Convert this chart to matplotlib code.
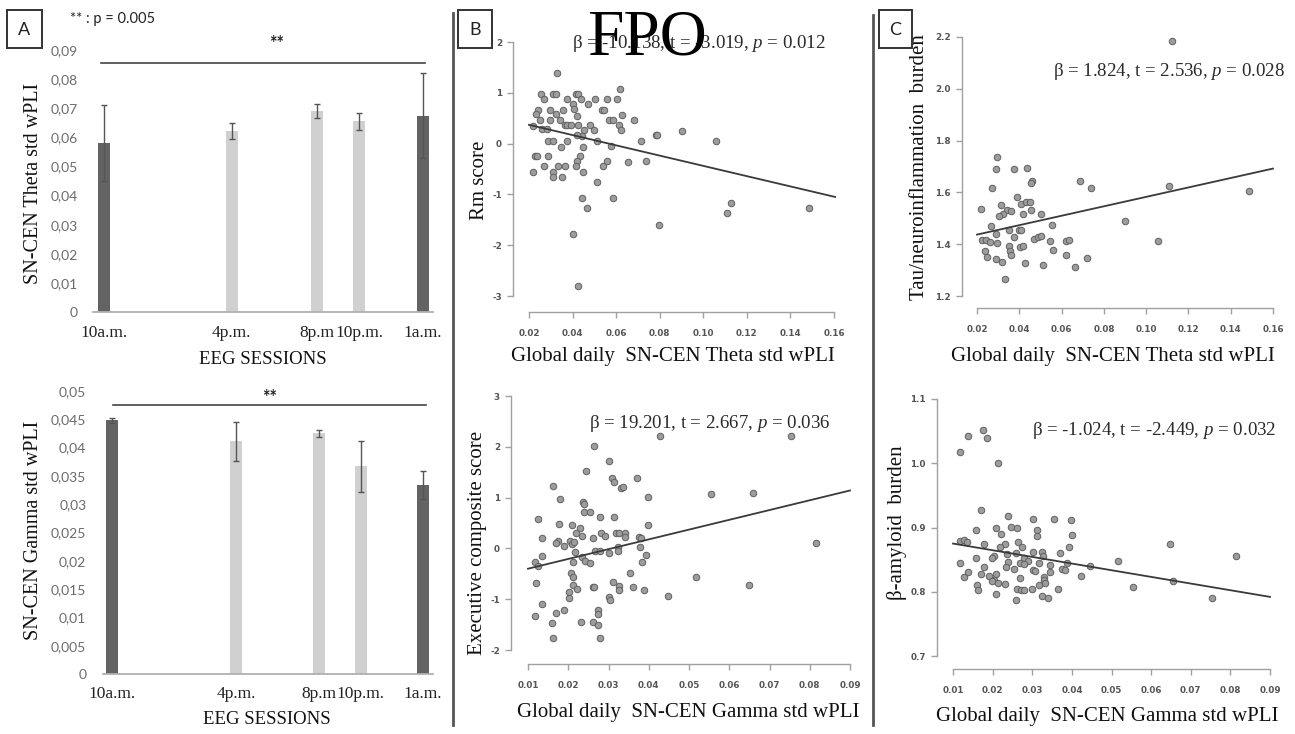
import numpy as np
import matplotlib
matplotlib.use("Agg")
import matplotlib.pyplot as plt
from matplotlib.patches import Rectangle
from matplotlib.lines import Line2D

plt.rcParams['mathtext.fontset'] = 'custom'
plt.rcParams['mathtext.rm'] = 'Liberation Serif'
plt.rcParams['mathtext.it'] = 'Liberation Serif:italic'

# ---------------- data ----------------
sessions = ['10a.m.', '4p.m.', '8p.m', '10p.m.', '1a.m.']
session_hours = [10, 16, 20, 22, 25]
session_dark = [True, False, False, False, True]

theta_mean = [0.058, 0.0622, 0.069, 0.0655, 0.0675]
theta_err = [0.013, 0.0027, 0.0025, 0.003, 0.0145]
theta_ticks = [0, 0.01, 0.02, 0.03, 0.04, 0.05, 0.06, 0.07, 0.08, 0.09]
theta_ticklabels = ['0', '0,01', '0,02', '0,03', '0,04', '0,05', '0,06', '0,07', '0,08', '0,09']
theta_sig = 0.0855

gamma_mean = [0.0448, 0.0411, 0.0425, 0.0367, 0.0334]
gamma_err = [0.0004, 0.0035, 0.0006, 0.0045, 0.0025]
gamma_ticks = [0, 0.005, 0.01, 0.015, 0.02, 0.025, 0.03, 0.035, 0.04, 0.045, 0.05]
gamma_ticklabels = ['0', '0,005', '0,01', '0,015', '0,02', '0,025', '0,03', '0,035', '0,04', '0,045', '0,05']
gamma_sig = 0.0475

# B top: theta vs Rm score
rm_x = [0.0327, 0.0254, 0.0312, 0.0324, 0.0416, 0.0426, 0.0618, 0.0269, 0.0373, 0.0438,
        0.0503, 0.0556, 0.0602, 0.0403, 0.0469, 0.0240, 0.0296, 0.0358, 0.0408, 0.0533,
        0.0544, 0.0232, 0.0324, 0.0419, 0.0628, 0.0250, 0.0296, 0.0342, 0.0569, 0.0584,
        0.0683, 0.0220, 0.0365, 0.0376, 0.0393, 0.0423, 0.0480, 0.0613, 0.0258, 0.0284,
        0.0454, 0.0500, 0.0622, 0.0442, 0.0419, 0.0781, 0.0789, 0.0904, 0.0289, 0.0312,
        0.0373, 0.0511, 0.0714, 0.1057, 0.0347, 0.0449, 0.0576, 0.0228, 0.0235, 0.0289,
        0.0434, 0.0419, 0.0556, 0.0656, 0.0735, 0.0270, 0.0335, 0.0365, 0.0416, 0.0541,
        0.0220, 0.0312, 0.0449, 0.0309, 0.0353, 0.0514, 0.0442, 0.0587, 0.0465, 0.1127,
        0.1107, 0.1485, 0.0797, 0.0400, 0.0426]
rm_y = [1.39, 0.98, 0.98, 0.98, 0.98, 0.98, 1.08, 0.87, 0.87, 0.88,
        0.87, 0.87, 0.87, 0.77, 0.77, 0.67, 0.67, 0.67, 0.69, 0.67,
        0.67, 0.58, 0.58, 0.55, 0.56, 0.47, 0.47, 0.47, 0.47, 0.47,
        0.47, 0.35, 0.37, 0.37, 0.37, 0.37, 0.37, 0.37, 0.28, 0.28,
        0.26, 0.26, 0.26, 0.15, 0.17, 0.17, 0.17, 0.25, 0.05, 0.05,
        0.05, 0.05, 0.05, 0.05, -0.06, -0.06, -0.04, -0.25, -0.25, -0.25,
        -0.25, -0.35, -0.35, -0.37, -0.35, -0.45, -0.45, -0.45, -0.45, -0.45,
        -0.55, -0.55, -0.55, -0.65, -0.65, -0.76, -1.07, -1.07, -1.26, -1.17,
        -1.37, -1.26, -1.61, -1.77, -2.80]
rm_fit_x = [0.0200, 0.1605]
rm_fit_y = [0.37, -1.05]

# B bottom: gamma vs executive composite
ex_x = [0.0263, 0.0427, 0.0753, 0.0300, 0.0245, 0.0162, 0.0308, 0.0313, 0.0370, 0.0332,
        0.0337, 0.0180, 0.0237, 0.0238, 0.0399, 0.0555, 0.0658, 0.0240, 0.0253, 0.0280,
        0.0313, 0.0126, 0.0178, 0.0209, 0.0399, 0.0230, 0.0282, 0.0291, 0.0319, 0.0327,
        0.0342, 0.0342, 0.0220, 0.0234, 0.0135, 0.0174, 0.0170, 0.0205, 0.0209, 0.0215,
        0.0190, 0.0261, 0.0375, 0.0381, 0.0816, 0.0323, 0.0378, 0.0267, 0.0278, 0.0323,
        0.0302, 0.0394, 0.0135, 0.0217, 0.0234, 0.0212, 0.0242, 0.0253, 0.0383, 0.0118,
        0.0126, 0.0354, 0.0208, 0.0212, 0.0518, 0.0120, 0.0310, 0.0212, 0.0261, 0.0265,
        0.0325, 0.0362, 0.0222, 0.0325, 0.0387, 0.0650, 0.0201, 0.0201, 0.0300, 0.0303,
        0.0447, 0.0135, 0.0189, 0.0170, 0.0274, 0.0274, 0.0117, 0.0232, 0.0261, 0.0160,
        0.0274, 0.0161, 0.0278]
ex_y = [2.02, 2.22, 2.22, 1.73, 1.53, 1.23, 1.38, 1.31, 1.38, 1.18,
        1.20, 0.97, 0.92, 0.87, 1.02, 1.08, 1.10, 0.72, 0.72, 0.62,
        0.62, 0.58, 0.49, 0.46, 0.46, 0.41, 0.30, 0.25, 0.30, 0.31,
        0.30, 0.23, 0.30, 0.25, 0.20, 0.15, 0.11, 0.14, 0.09, 0.12,
        0.05, 0.20, 0.22, 0.20, 0.10, 0.02, 0.02, -0.05, -0.05, -0.06,
        -0.10, -0.13, -0.14, -0.08, -0.16, -0.26, -0.25, -0.29, -0.27, -0.27,
        -0.35, -0.49, -0.48, -0.57, -0.57, -0.69, -0.67, -0.72, -0.75, -0.75,
        -0.74, -0.75, -0.79, -0.82, -0.82, -0.72, -0.85, -0.97, -0.95, -1.02,
        -0.93, -1.10, -1.21, -1.27, -1.21, -1.29, -1.33, -1.44, -1.44, -1.47,
        -1.51, -1.76, -1.76]
ex_fit_x = [0.010, 0.090]
ex_fit_y = [-0.40, 1.14]

# C top: theta vs tau/neuroinflammation
tau_x = [0.1122, 0.0296, 0.0288, 0.0375, 0.0436, 0.0462, 0.0457, 0.0686, 0.0738, 0.0271,
         0.1107, 0.1485, 0.0391, 0.0220, 0.0315, 0.0407, 0.0433, 0.0449, 0.0343, 0.0362,
         0.0454, 0.0323, 0.0304, 0.0418, 0.0504, 0.0268, 0.0556, 0.0898, 0.0397, 0.0410,
         0.0351, 0.0291, 0.0375, 0.0470, 0.0489, 0.0504, 0.0225, 0.0244, 0.0260, 0.0295,
         0.0544, 0.0619, 0.0634, 0.1056, 0.0351, 0.0405, 0.0418, 0.0236, 0.0354, 0.0559,
         0.0362, 0.0622, 0.0247, 0.0288, 0.0720, 0.0318, 0.0425, 0.0512, 0.0662, 0.0331]
tau_y = [2.183, 1.737, 1.689, 1.692, 1.695, 1.643, 1.636, 1.643, 1.617, 1.618,
         1.625, 1.604, 1.582, 1.537, 1.550, 1.554, 1.563, 1.563, 1.531, 1.528,
         1.533, 1.518, 1.508, 1.515, 1.515, 1.470, 1.475, 1.490, 1.456, 1.456,
         1.454, 1.441, 1.428, 1.421, 1.428, 1.432, 1.415, 1.417, 1.408, 1.405,
         1.412, 1.412, 1.415, 1.412, 1.392, 1.389, 1.392, 1.374, 1.374, 1.376,
         1.357, 1.360, 1.351, 1.344, 1.348, 1.331, 1.329, 1.321, 1.312, 1.267]
tau_fit_x = [0.020, 0.160]
tau_fit_y = [1.437, 1.692]

# C bottom: gamma vs beta-amyloid
ab_x = [0.0118, 0.0137, 0.0175, 0.0187, 0.0213, 0.0171, 0.0239, 0.0354, 0.0302, 0.0398,
        0.0159, 0.0209, 0.0247, 0.0261, 0.0312, 0.0313, 0.0400, 0.0222, 0.0117, 0.0129,
        0.0135, 0.0179, 0.0232, 0.0264, 0.0648, 0.0218, 0.0274, 0.0394, 0.0159, 0.0204,
        0.0236, 0.0259, 0.0303, 0.0324, 0.0371, 0.0813, 0.0280, 0.0198, 0.0327, 0.0289,
        0.0516, 0.0117, 0.0240, 0.0268, 0.0278, 0.0316, 0.0387, 0.0344, 0.0445, 0.0179,
        0.0234, 0.0255, 0.0303, 0.0375, 0.0382, 0.0306, 0.0137, 0.0208, 0.0171, 0.0190,
        0.0424, 0.0129, 0.0329, 0.0344, 0.0268, 0.0204, 0.0198, 0.0329, 0.0213, 0.0333,
        0.0232, 0.0318, 0.0161, 0.0655, 0.0162, 0.0209, 0.0261, 0.0272, 0.0280, 0.0299,
        0.0366, 0.0553, 0.0259, 0.0324, 0.0339, 0.0753]
ab_y = [1.018, 1.043, 1.051, 1.040, 1.001, 0.928, 0.918, 0.914, 0.913, 0.912,
        0.896, 0.900, 0.901, 0.899, 0.896, 0.886, 0.888, 0.890, 0.879, 0.880,
        0.877, 0.875, 0.875, 0.877, 0.874, 0.870, 0.870, 0.870, 0.853, 0.856,
        0.858, 0.860, 0.862, 0.862, 0.860, 0.855, 0.852, 0.852, 0.855, 0.848,
        0.848, 0.845, 0.847, 0.844, 0.843, 0.845, 0.845, 0.841, 0.840, 0.839,
        0.838, 0.835, 0.834, 0.835, 0.834, 0.832, 0.830, 0.828, 0.827, 0.824,
        0.825, 0.823, 0.823, 0.830, 0.821, 0.819, 0.817, 0.819, 0.814, 0.814,
        0.812, 0.810, 0.811, 0.817, 0.802, 0.797, 0.805, 0.802, 0.802, 0.805,
        0.805, 0.807, 0.787, 0.793, 0.790, 0.790]
ab_fit_x = [0.010, 0.090]
ab_fit_y = [0.875, 0.792]

# ---------------- layout helpers ----------------
W, H = 1295, 734
fig = plt.figure(figsize=(W / 100, H / 100), dpi=100)
fig.patch.set_facecolor('white')

SERIF = 'Liberation Serif'
SANS = 'Lato'
TICKSANS = 'DejaVu Sans'


def px_axes(x0, x1, y0, y1):
    ax = fig.add_axes([x0 / W, 1 - y1 / H, (x1 - x0) / W, (y1 - y0) / H])
    ax.patch.set_alpha(0)
    return ax


def map_lim(p0, p1, pa, va, pb, vb):
    s = (vb - va) / (pb - pa)
    return va + (p0 - pa) * s, va + (p1 - pa) * s


def set_px_limits(ax, box, xref, yref):
    x0, x1, y0, y1 = box
    ax.set_xlim(*map_lim(x0, x1, *xref))
    lo, hi = map_lim(y1, y0, *yref)
    ax.set_ylim(lo, hi)


def ftext(x, y, s, **kw):
    return fig.text(x / W, 1 - y / H, s, **kw)


def letter_box(x0, y0, x1, y1, letter):
    fig.add_artist(Rectangle((x0 / W, 1 - y1 / H), (x1 - x0) / W, (y1 - y0) / H,
                             transform=fig.transFigure, fill=False, ec='#333333', lw=1.4))
    ftext((x0 + x1) / 2, (y0 + y1) / 2 + 1, letter, ha='center', va='center',
          fontsize=13, family=SANS, color='#222222')


def vline_fig(x, y0, y1):
    fig.add_artist(Line2D([x / W, x / W], [1 - y0 / H, 1 - y1 / H],
                          transform=fig.transFigure, color='#555555', lw=2))


# ---------------- panel A ----------------
def bar_panel(box, xref, yref, axis_x, means, errs, ticks, ticklabels, sig, sig_x, ylab_pos,
              ylabel, xlab_pos, star_pos, ylab_pad):
    ax = px_axes(*box)
    cols = ['#636363' if d else '#d0d0d0' for d in session_dark]
    ax.bar(session_hours, means, width=0.57, color=cols, edgecolor='none', zorder=2)
    ax.errorbar(session_hours, means, yerr=errs, fmt='none', ecolor='#555555',
                elinewidth=1.0, capsize=2.5, capthick=1.0, zorder=3)
    set_px_limits(ax, box, xref, yref)
    for sp in ['top', 'right', 'left', 'bottom']:
        ax.spines[sp].set_visible(False)
    xl = ax.get_xlim()
    base_x = map_lim(axis_x[0], axis_x[1], *xref)
    ax.plot(base_x, [0, 0], color='#b0b0b0', lw=1.3, zorder=4, clip_on=False)
    ax.set_yticks(ticks)
    ax.set_yticklabels(ticklabels)
    ax.tick_params(axis='y', length=0, pad=ylab_pad, labelsize=10, labelcolor='#6b6b6b')
    for t in ax.get_yticklabels():
        t.set_family(SANS)
    ax.set_xticks(session_hours)
    ax.set_xticklabels(sessions)
    ax.tick_params(axis='x', length=0, pad=9, labelsize=12.5, labelcolor='#222222')
    for t in ax.get_xticklabels():
        t.set_family(SERIF)
    ax.plot(sig_x, [sig, sig], color='#444444', lw=1.2, clip_on=False)
    ax.set_xlim(*xl)
    ftext(star_pos[0], star_pos[1], '**', ha='center', va='center', fontsize=13,
          fontweight='bold', family=SANS, color='#222222')
    ftext(ylab_pos[0], ylab_pos[1], ylabel, rotation=90, ha='center', va='center',
          fontsize=14.5, family=SERIF, color='#111111')
    ftext(xlab_pos[0], xlab_pos[1], 'EEG SESSIONS', ha='center', va='center',
          fontsize=13.5, family=SERIF, color='#111111')
    return ax


bar_panel(box=(93, 433, 30, 312), xref=(104, 10, 423, 25), yref=(312, 0.0, 50, 0.09),
          axis_x=(93, 433), means=theta_mean, errs=theta_err, ticks=theta_ticks,
          ticklabels=theta_ticklabels, sig=theta_sig, sig_x=[9.86, 25.09],
          ylab_pos=(34, 183), ylabel='SN-CEN Theta std wPLI', xlab_pos=(263, 360),
          star_pos=(277, 43), ylab_pad=11)

bar_panel(box=(103, 433, 385, 674), xref=(112, 10, 423, 25), yref=(674, 0.0, 391, 0.05),
          axis_x=(103, 433), means=gamma_mean, errs=gamma_err, ticks=gamma_ticks,
          ticklabels=gamma_ticklabels, sig=gamma_sig, sig_x=[10.05, 25.15],
          ylab_pos=(34, 530), ylabel='SN-CEN Gamma std wPLI', xlab_pos=(267, 720),
          star_pos=(270, 397), ylab_pad=12)

letter_box(7, 10, 42, 48, 'A')
ftext(70, 19, '** : p = 0.005', ha='left', va='center', fontsize=10.5, family=SANS,
      color='#222222')


# ---------------- scatter panels ----------------
def scatter_panel(box, xref, yref, xs, ys, fx, fy, xticks, xticklabels, yticks, yticklabels,
                  xlabel, xlab_pos, ylabel, ylab_pos, note, note_pos):
    ax = px_axes(*box)
    ax.scatter(xs, ys, s=22, facecolor='#9c9c9c', edgecolor='#606060', linewidths=0.7,
               zorder=3, clip_on=False)
    ax.plot(fx, fy, color='#3a3a3a', lw=1.3, zorder=4, clip_on=False)
    set_px_limits(ax, box, xref, yref)
    for sp in ['top', 'right']:
        ax.spines[sp].set_visible(False)
    for sp in ['left', 'bottom']:
        ax.spines[sp].set_color('#a0a0a0')
        ax.spines[sp].set_linewidth(1.0)
    ax.spines['bottom'].set_bounds(xticks[0], xticks[-1])
    ax.spines['left'].set_bounds(yticks[0], yticks[-1])
    ax.set_xticks(xticks)
    ax.set_xticklabels(xticklabels)
    ax.set_yticks(yticks)
    ax.set_yticklabels(yticklabels)
    ax.tick_params(axis='both', direction='out', length=4, width=1.0, color='#a0a0a0',
                   labelsize=6.3, labelcolor='#555555')
    ax.tick_params(axis='x', pad=8)
    ax.tick_params(axis='y', pad=4)
    for t in ax.get_xticklabels() + ax.get_yticklabels():
        t.set_family(TICKSANS)
        t.set_fontweight('bold')
    ftext(xlab_pos[0], xlab_pos[1], xlabel, ha='center', va='center', fontsize=15,
          family=SERIF, color='#111111')
    ftext(ylab_pos[0], ylab_pos[1], ylabel, rotation=90, ha='center', va='center',
          fontsize=15, family=SERIF, color='#111111')
    ftext(note_pos[0], note_pos[1], note, ha='center', va='center', fontsize=13.6,
          family=SERIF, color='#2a2a2a')
    return ax


theta_xt = [0.02, 0.04, 0.06, 0.08, 0.10, 0.12, 0.14, 0.16]
theta_xtl = ['0.02', '0.04', '0.06', '0.08', '0.10', '0.12', '0.14', '0.16']
gamma_xt = [0.01, 0.02, 0.03, 0.04, 0.05, 0.06, 0.07, 0.08, 0.09]
gamma_xtl = ['0.01', '0.02', '0.03', '0.04', '0.05', '0.06', '0.07', '0.08', '0.09']

scatter_panel(box=(513, 850, 25, 312), xref=(529, 0.02, 834, 0.16), yref=(296, -3, 42, 2),
              xs=rm_x, ys=rm_y, fx=rm_fit_x, fy=rm_fit_y, xticks=theta_xt, xticklabels=theta_xtl,
              yticks=[-3, -2, -1, 0, 1, 2], yticklabels=['-3', '-2', '-1', '0', '1', '2'],
              xlabel='Global daily  SN-CEN Theta std wPLI', xlab_pos=(673, 357),
              ylabel='Rm score', ylab_pos=(479, 180),
              note=r'β = -10.138, t = -3.019, $p$ = 0.012', note_pos=(699, 44))

scatter_panel(box=(511, 862, 385, 664), xref=(528, 0.01, 850, 0.09), yref=(650, -2, 396, 3),
              xs=ex_x, ys=ex_y, fx=ex_fit_x, fy=ex_fit_y, xticks=gamma_xt, xticklabels=gamma_xtl,
              yticks=[-2, -1, 0, 1, 2, 3], yticklabels=['-2', '-1', '0', '1', '2', '3'],
              xlabel='Global daily  SN-CEN Gamma std wPLI', xlab_pos=(688, 712),
              ylabel='Executive composite score', ylab_pos=(478, 543),
              note=r'β = 19.201, t = 2.667, $p$ = 0.036', note_pos=(710, 423))

scatter_panel(box=(962, 1285, 25, 308), xref=(977, 0.02, 1273, 0.16), yref=(296, 1.2, 37, 2.2),
              xs=tau_x, ys=tau_y, fx=tau_fit_x, fy=tau_fit_y, xticks=theta_xt,
              xticklabels=theta_xtl,
              yticks=[1.2, 1.4, 1.6, 1.8, 2.0, 2.2],
              yticklabels=['1.2', '1.4', '1.6', '1.8', '2.0', '2.2'],
              xlabel='Global daily  SN-CEN Theta std wPLI', xlab_pos=(1113, 357),
              ylabel='Tau/neuroinflammation  burden', ylab_pos=(920, 167),
              note=r'β = 1.824, t = 2.536, $p$ = 0.028', note_pos=(1169, 72))

scatter_panel(box=(937, 1285, 385, 669), xref=(953, 0.01, 1270, 0.09), yref=(656, 0.7, 399, 1.1),
              xs=ab_x, ys=ab_y, fx=ab_fit_x, fy=ab_fit_y, xticks=gamma_xt, xticklabels=gamma_xtl,
              yticks=[0.7, 0.8, 0.9, 1.0, 1.1], yticklabels=['0.7', '0.8', '0.9', '1.0', '1.1'],
              xlabel='Global daily  SN-CEN Gamma std wPLI', xlab_pos=(1107, 716),
              ylabel='β-amyloid  burden', ylab_pos=(897, 523),
              note=r'β = -1.024, t = -2.449, $p$ = 0.032', note_pos=(1154, 431))

letter_box(458, 10, 492, 48, 'B')
letter_box(879, 10, 912, 48, 'C')
vline_fig(453, 13, 725)
vline_fig(873, 15, 725)

ftext(647, 39, 'FPO', ha='center', va='center', fontsize=47, family=SERIF, color='black')

fig.savefig('out.png', dpi=100, facecolor='white')
